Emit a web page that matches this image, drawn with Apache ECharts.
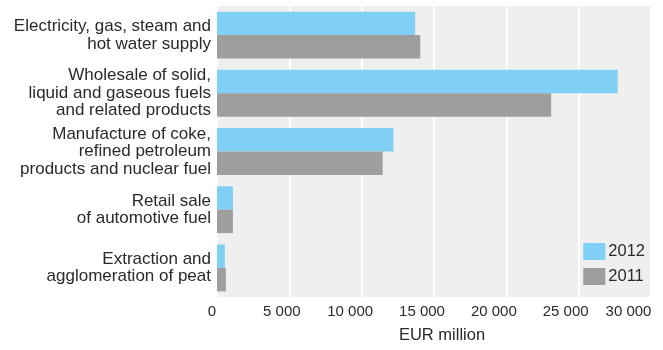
<!DOCTYPE html>
<html><head><meta charset="utf-8">
<script src="https://cdn.jsdelivr.net/npm/echarts@6/dist/echarts.min.js"></script>
<style>html,body{margin:0;padding:0;background:#fff}#c{width:663px;height:350px}</style>
</head><body><div id="c"></div>
<script>
const categories = [
  "Electricity, gas, steam and\nhot water supply",
  "Wholesale of solid,\nliquid and gaseous fuels\nand related products",
  "Manufacture of coke,\nrefined petroleum\nproducts and nuclear fuel",
  "Retail sale\nof automotive fuel",
  "Extraction and\nagglomeration of peat"
];
const values2012 = [13700, 27700, 12200, 1100, 540];
const values2011 = [14050, 23100, 11450, 1100, 610];
const tickValues = [0, 5000, 10000, 15000, 20000, 25000, 30000];
const tickLabels = ["0", "5 000", "10 000", "15 000", "20 000", "25 000", "30 000"];
const labelShift = [10, 15, 23, 24, 25, 26, 45];

const font = "'Liberation Sans', Arial, Helvetica, sans-serif";
const rich = {};
tickValues.forEach((v, i) => {
  rich['t' + i] = { padding: [0, labelShift[i], 0, 0], fontSize: 15, color: '#2a2a2a', fontFamily: font };
});

const chart = echarts.init(document.getElementById('c'), null, { renderer: 'canvas' });
chart.setOption({
  backgroundColor: '#fff',
  animation: false,
  textStyle: { fontFamily: font },
  grid: { left: 217, right: 12, top: 6, bottom: 53, containLabel: false, show: true, backgroundColor: '#efefef', borderWidth: 0 },
  legend: {
    orient: 'vertical', right: 13, bottom: 60,
    icon: 'rect',
    itemWidth: 22, itemHeight: 17, itemGap: 8,
    textStyle: { fontSize: 16.5, color: '#2a2a2a', fontFamily: font, padding: [0, 0, 0, -2] },
    data: ['2012', '2011']
  },
  xAxis: {
    type: 'value', min: 0, max: 30000, interval: 5000,
    axisLine: { show: false }, axisTick: { show: false },
    splitLine: { show: true, lineStyle: { color: '#ffffff', width: 2 } },
    axisLabel: {
      margin: 7, showMaxLabel: true, showMinLabel: true,
      formatter: function (v) { const i = tickValues.indexOf(v); return '{t' + i + '|' + tickLabels[i] + '}'; },
      rich: rich
    },
    name: 'EUR million', nameLocation: 'middle', nameGap: 30,
    nameTextStyle: { fontSize: 16.5, color: '#2a2a2a', fontFamily: font, padding: [0, 0, 0, 16] }
  },
  yAxis: {
    type: 'category', data: categories, inverse: true,
    axisLine: { show: false }, axisTick: { show: false }, splitLine: { show: false },
    axisLabel: { fontSize: 17, color: '#2a2a2a', lineHeight: 17.5, margin: 6, align: 'right', fontFamily: font }
  },
  series: [
    { name: '2012', type: 'bar', data: values2012, itemStyle: { color: '#80cff4' }, barGap: '0%', barCategoryGap: '19.5%' },
    { name: '2011', type: 'bar', data: values2011, itemStyle: { color: '#9e9e9d' }, barGap: '0%', barCategoryGap: '19.5%' }
  ]
});
</script></body></html>
